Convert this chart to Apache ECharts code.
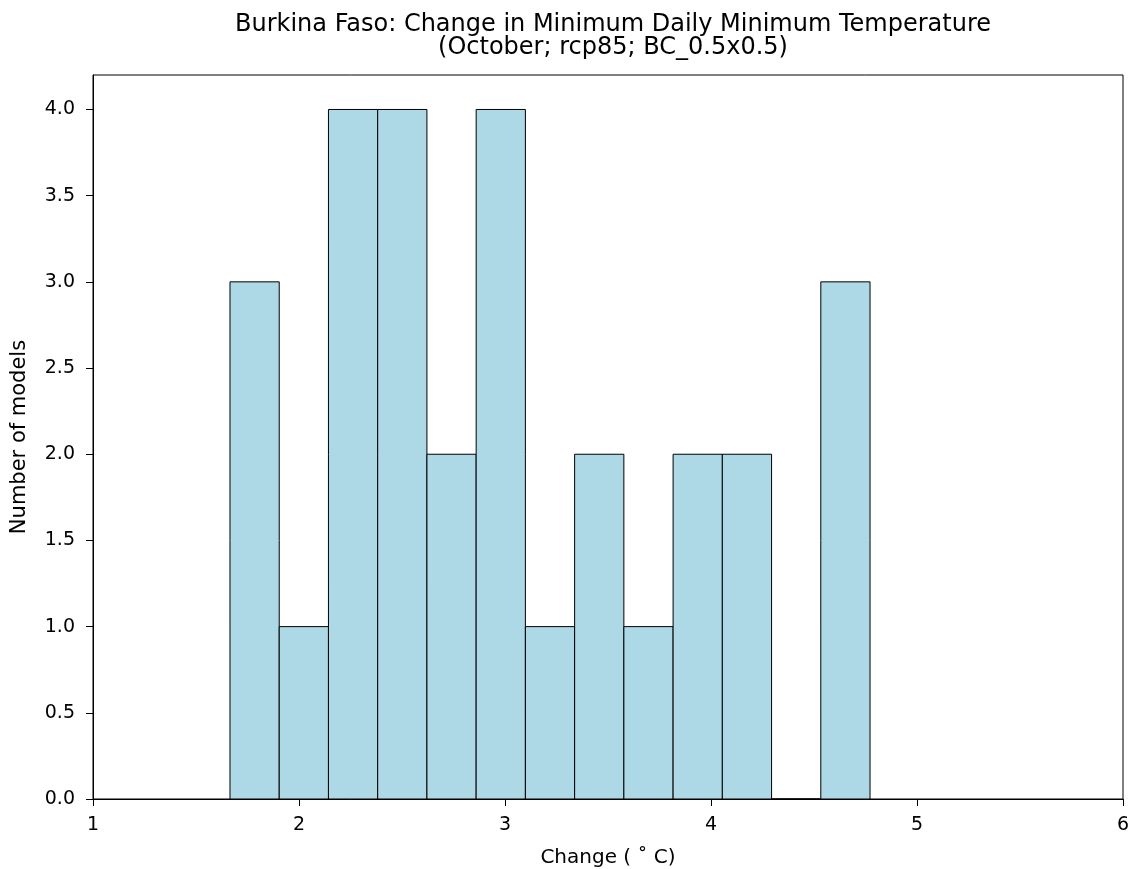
<!DOCTYPE html>
<html>
<head>
<meta charset="utf-8">
<script src="https://cdn.jsdelivr.net/npm/echarts@6/dist/echarts.min.js"></script>
<style>
  html, body { margin: 0; padding: 0; background: #fff; }
  #main { width: 1134px; height: 869px; }
</style>
</head>
<body>
<div id="main"></div>
<script>
// bin edges (°C) and model counts per bin
var binEdges = [1.665, 1.904, 2.143, 2.382, 2.621, 2.860, 3.099, 3.338, 3.577, 3.816, 4.055, 4.294, 4.533, 4.772];
var counts = [3, 1, 4, 4, 2, 4, 1, 2, 1, 2, 2, 0, 3];
var yTicks = [0, 0.5, 1, 1.5, 2, 2.5, 3, 3.5, 4];
var xTicks = [1, 2, 3, 4, 5, 6];

var bins = counts.map(function (c, i) {
    return [binEdges[i], binEdges[i + 1], c];
});

var myChart = echarts.init(document.getElementById('main'));
var font = 'DejaVu Sans';

var option = {
    animation: false,
    backgroundColor: '#fff',
    textStyle: { fontFamily: font },
    title: {
        text: 'Burkina Faso: Change in Minimum Daily Minimum Temperature\n(October; rcp85; BC_0.5x0.5)',
        left: 608,
        textAlign: 'center',
        top: 8,
        textStyle: { fontFamily: font, fontSize: 24, fontWeight: 'normal', color: '#000', lineHeight: 23 }
    },
    grid: {
        left: 93, right: 11, top: 75, bottom: 70,
        outerBoundsMode: 'none',
        containLabel: false,
        show: true, borderColor: '#000', borderWidth: 1, backgroundColor: 'transparent'
    },
    xAxis: {
        type: 'value',
        min: 1, max: 6, interval: 1,
        name: 'Change ( ˚ C)',
        nameLocation: 'middle',
        nameGap: 49,
        nameTextStyle: { fontFamily: font, fontSize: 20, color: '#000' },
        splitLine: { show: false },
        axisLine: { lineStyle: { color: '#000', width: 1 } },
        axisTick: { length: 7, lineStyle: { color: '#000' }, customValues: xTicks },
        axisLabel: { fontFamily: font, fontSize: 19, color: '#000', margin: 17, customValues: xTicks }
    },
    yAxis: {
        type: 'value',
        min: 0, max: 4.2,
        name: 'Number of models',
        nameLocation: 'middle',
        nameGap: 63,
        nameTextStyle: { fontFamily: font, fontSize: 21, color: '#000' },
        splitLine: { show: false },
        axisLine: { show: true, lineStyle: { color: '#000', width: 1 } },
        axisTick: { show: true, length: 7, lineStyle: { color: '#000' }, customValues: yTicks },
        axisLabel: {
            fontFamily: font, fontSize: 19, color: '#000', margin: 18,
            customValues: yTicks,
            formatter: function (v) { return v.toFixed(1); }
        }
    },
    series: [{
        type: 'custom',
        data: bins,
        encode: { x: [0, 1], y: 2 },
        renderItem: function (params, api) {
            var p0 = api.coord([api.value(0), 0]);
            var p1 = api.coord([api.value(1), api.value(2)]);
            return {
                type: 'rect',
                shape: { x: p0[0], y: p1[1], width: p1[0] - p0[0], height: p0[1] - p1[1] },
                style: { fill: '#ADD8E6', stroke: '#000', lineWidth: 1 }
            };
        }
    }]
};

myChart.setOption(option);
</script>
</body>
</html>
